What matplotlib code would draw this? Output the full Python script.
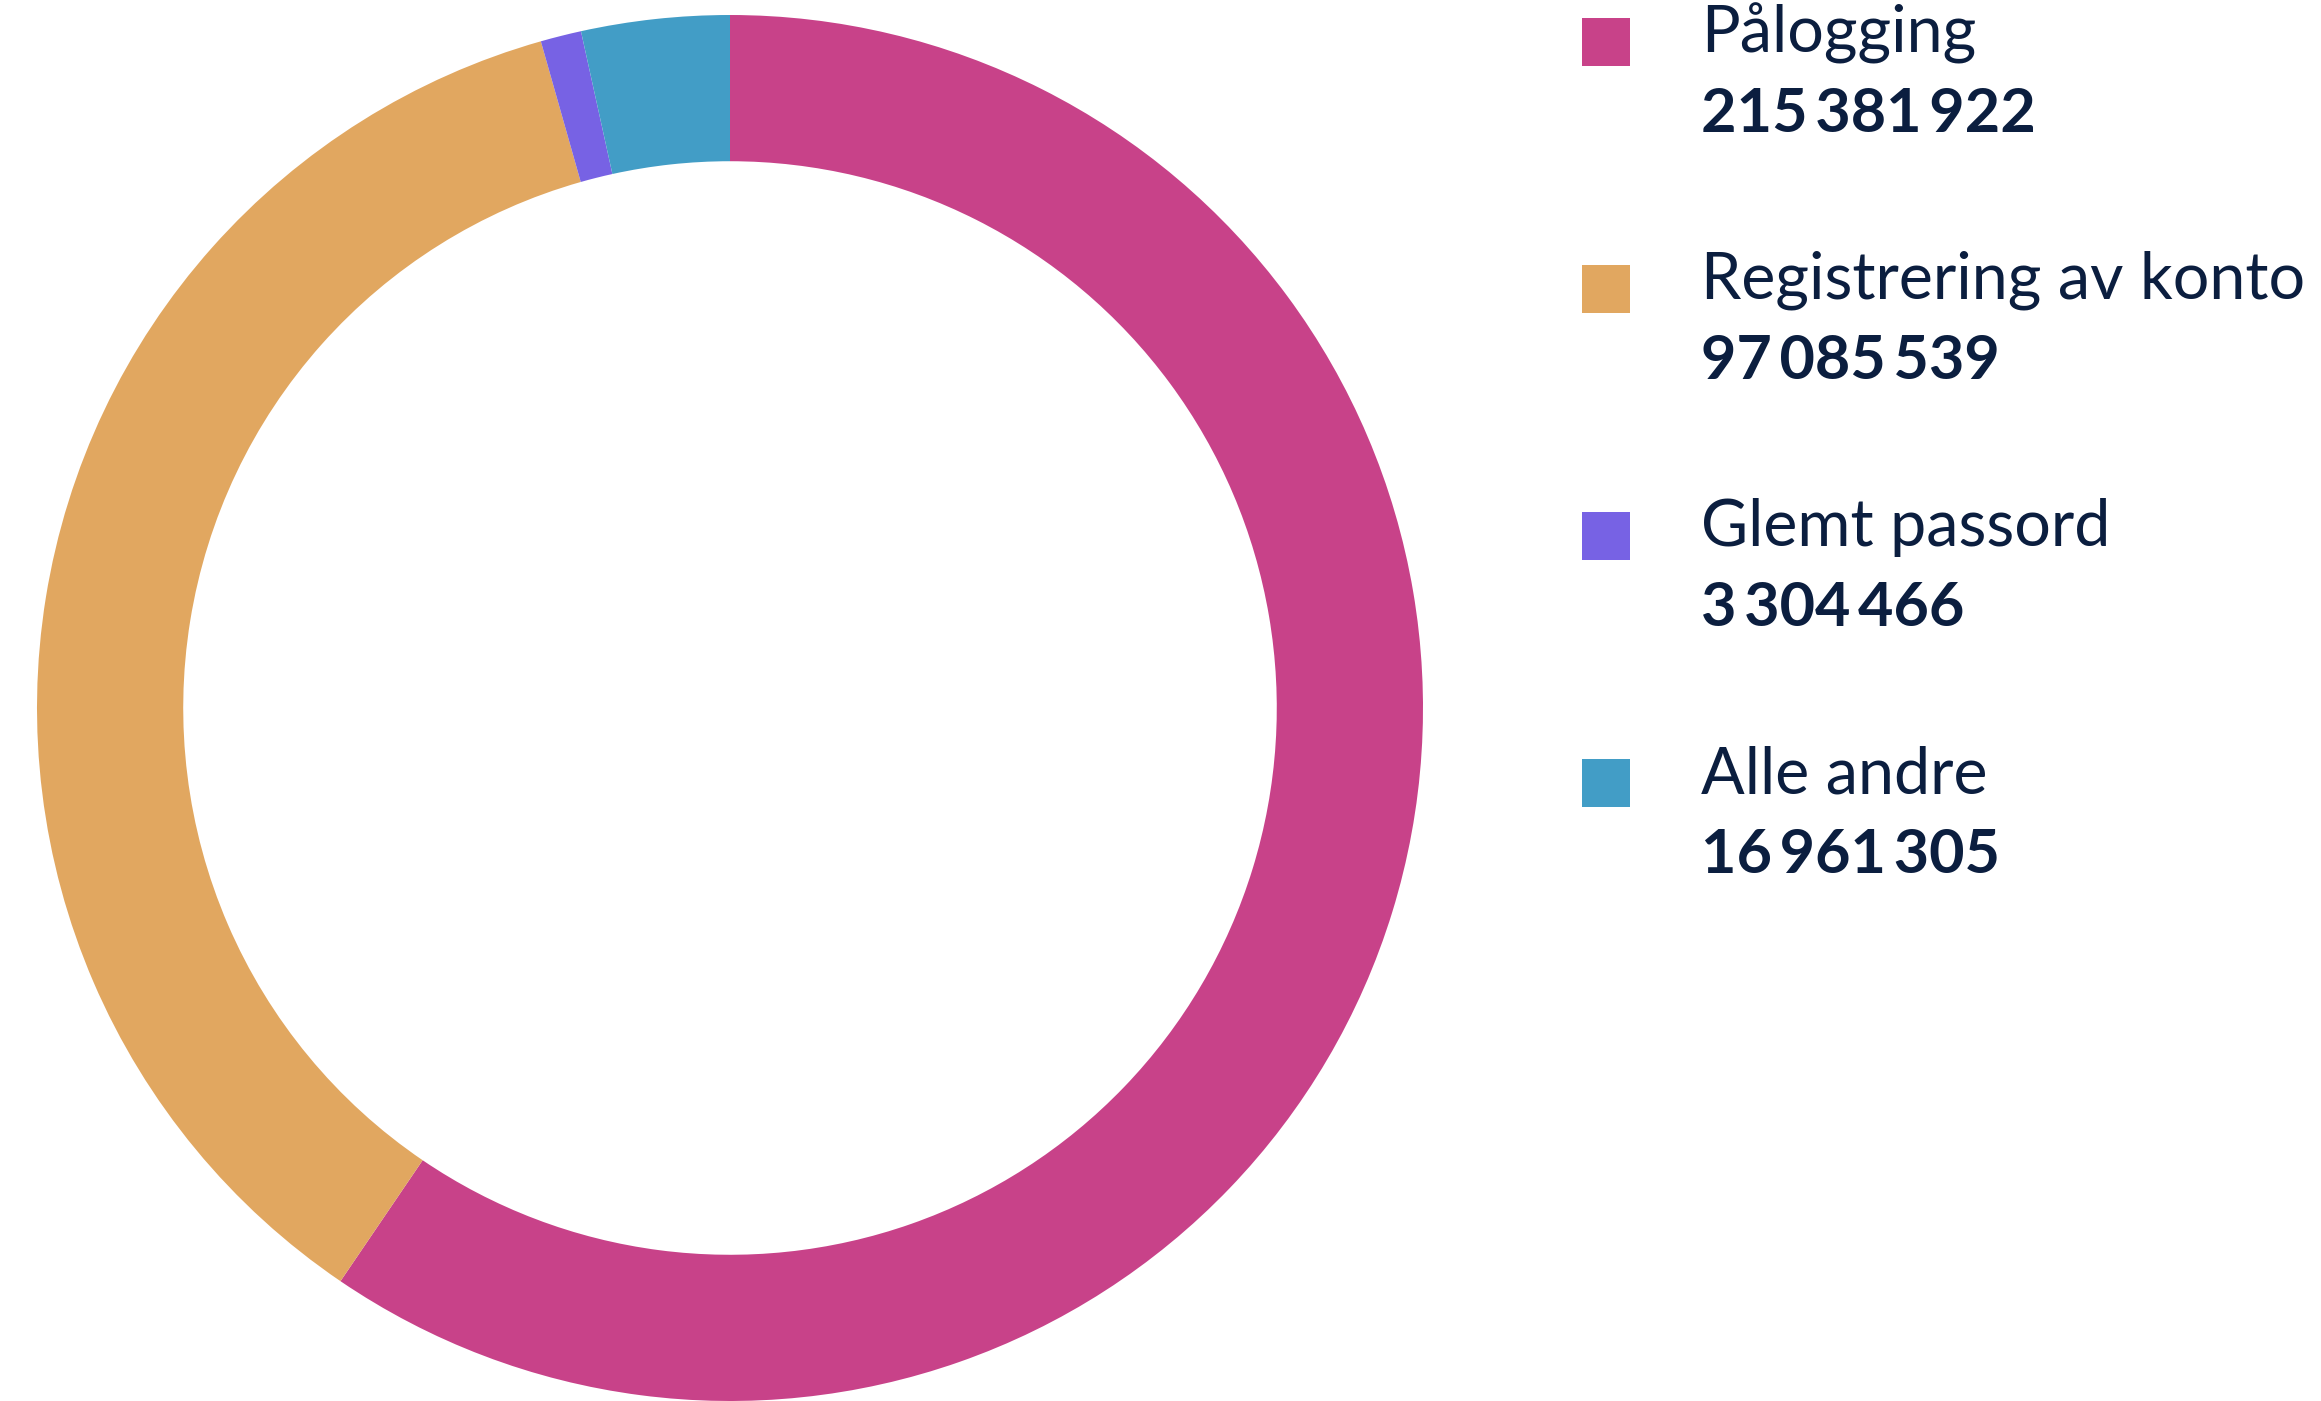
import matplotlib
matplotlib.use("Agg")
import matplotlib.pyplot as plt
from matplotlib.patches import Rectangle

# legend text
labels = ["Pålogging", "Registrering av konto", "Glemt passord", "Alle andre"]
counts = ["215\u2009381\u2009922", "97\u2009085\u2009539", "3\u2009304\u2009466", "16\u2009961\u2009305"]
# ring shares (percent) as drawn in the picture
shares = [59.5, 36.1, 0.95, 3.45]
colors = ["#C84289", "#E1A760", "#7762E4", "#429DC6"]
text_col = "#0B1E3F"

W, H = 2321, 1401
fig = plt.figure(figsize=(W / 100, H / 100), dpi=100)

# donut
cx, cy, r = 730, 708, 693
ax = fig.add_axes([(cx - r) / W, (H - cy - r) / H, 2 * r / W, 2 * r / H])
ax.pie(shares, colors=colors, startangle=90, counterclock=False, radius=1,
       wedgeprops=dict(width=0.211, linewidth=0))
ax.set_xlim(-1, 1)
ax.set_ylim(-1, 1)
ax.set_aspect("equal")
ax.axis("off")

# legend drawn in pixel space
lg = fig.add_axes([0, 0, 1, 1])
lg.set_xlim(0, W)
lg.set_ylim(H, 0)
lg.axis("off")
step = 247
for i, (lab, cnt, col) in enumerate(zip(labels, counts, colors)):
    y0 = i * step
    lg.add_patch(Rectangle((1582, 18 + y0), 48, 48, color=col, lw=0))
    lg.text(1701, 52 + y0, lab, fontsize=46.5, family=["Lato", "DejaVu Sans"],
            color=text_col, va="baseline", ha="left")
    lg.text(1701, 132 + y0, cnt, fontsize=44, family=["Lato", "DejaVu Sans"],
            weight="bold", color=text_col, va="baseline", ha="left")

fig.savefig("out.png", dpi=100)
